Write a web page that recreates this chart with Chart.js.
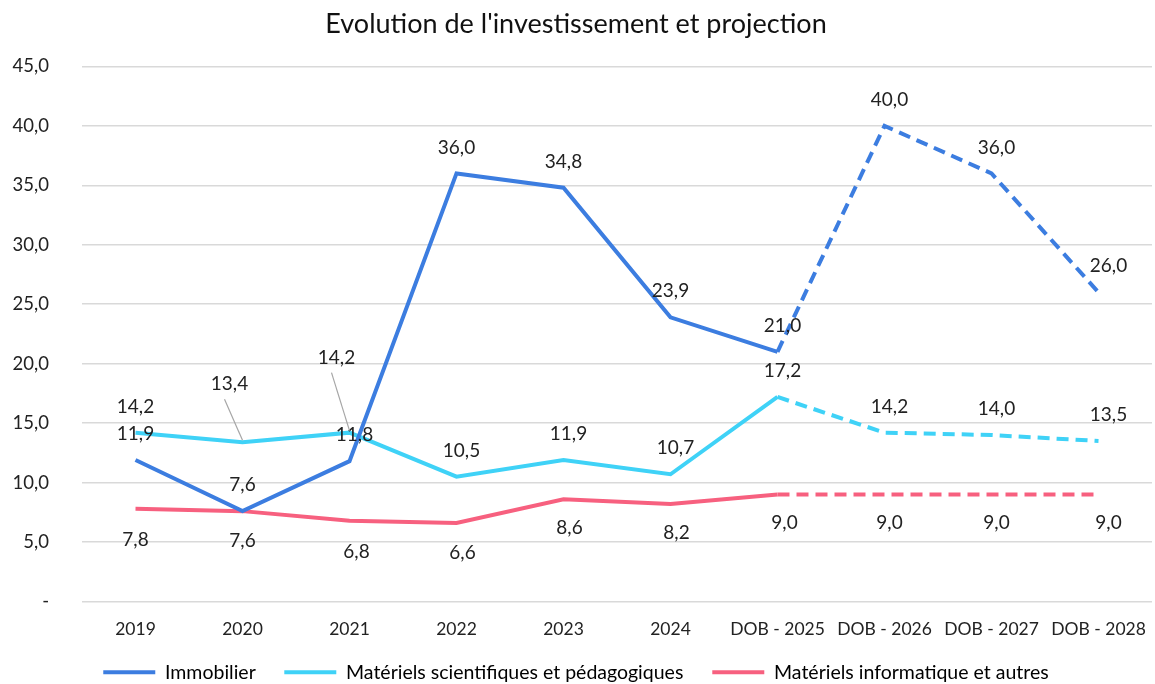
<!DOCTYPE html>
<html>
<head>
<meta charset="utf-8">
<script src="https://cdn.jsdelivr.net/npm/chart.js@4.4.1/dist/chart.umd.min.js"></script>
<style>
  html, body { margin: 0; padding: 0; background: #fff; }
  #wrap { width: 1155px; height: 684px; position: relative; }
</style>
</head>
<body>
<div id="wrap"><canvas id="c"></canvas></div>
<script>
const categories = ['2019', '2020', '2021', '2022', '2023', '2024', 'DOB - 2025', 'DOB - 2026', 'DOB - 2027', 'DOB - 2028'];
const immobilier = [11.9, 7.6, 11.8, 36.0, 34.8, 23.9, 21.0, 40.0, 36.0, 26.0];
const scientifiques = [14.2, 13.4, 14.2, 10.5, 11.9, 10.7, 17.2, 14.2, 14.0, 13.5];
const informatique = [7.8, 7.6, 6.8, 6.6, 8.6, 8.2, 9.0, 9.0, 9.0, 9.0];
const seriesNames = ['Immobilier', 'Matériels scientifiques et pédagogiques', 'Matériels informatique et autres'];
const yTicks = [0, 5, 10, 15, 20, 25, 30, 35, 40, 45];
const projectionStart = 6;

const FONT = 'Lato, "Open Sans", sans-serif';
const colors = ['#3c7de0', '#3fd2f7', '#f7607f'];

// label placement (style only): [dx, dy] per dataset per point
const labelPos = [
  [[0,-26],[0,-26],[5,-26],[0,-26],[0,-26],[0,-26],[5,-26],[5,-26],[5,-26],[10,-26]],
  [[0,-26],[-13,-58],[-13,-75],[5,-26],[5,-26],[5,-26],[5,-26],[5,-26],[5,-26],[10,-26]],
  [[0,31],[0,30],[7,31],[6,30],[6,29],[6,29],[7,28],[5,28],[5,28],[10,28]]
];
const leaders = { '1-1': true, '1-2': true };

const fmt = v => v.toFixed(1).replace('.', ',');
const GAP = '\u00a0'.repeat(5);

const labelPlugin = {
  id: 'pointLabels',
  afterDatasetsDraw(chart) {
    const ctx = chart.ctx;
    ctx.save();
    ctx.font = '19px ' + FONT;
    ctx.fillStyle = '#222';
    ctx.textAlign = 'center';
    ctx.textBaseline = 'middle';
    chart.data.datasets.forEach((ds, di) => {
      const meta = chart.getDatasetMeta(di);
      meta.data.forEach((pt, i) => {
        const [dx, dy] = labelPos[di][i];
        const lx = pt.x + dx, ly = pt.y + dy;
        if (leaders[di + '-' + i]) {
          ctx.save();
          ctx.strokeStyle = '#a6a6a6';
          ctx.lineWidth = 1.2;
          ctx.beginPath();
          ctx.moveTo(lx - 5, ly + 15);
          ctx.lineTo(pt.x, pt.y - 2);
          ctx.stroke();
          ctx.restore();
        }
        ctx.fillText(fmt(ds.data[i]), lx, ly);
      });
    });
    ctx.restore();
  }
};

const dashSeg = {
  borderDash: c => c.p0DataIndex >= projectionStart ? [12, 7] : undefined
};

function makeDs(label, data, color) {
  return {
    label, data,
    borderColor: color,
    backgroundColor: color,
    borderWidth: 4,
    pointRadius: 0,
    pointHoverRadius: 0,
    tension: 0,
    borderCapStyle: 'butt',
    borderJoinStyle: 'miter',
    segment: dashSeg
  };
}

new Chart(document.getElementById('c'), {
  type: 'line',
  data: {
    labels: categories,
    datasets: [
      makeDs(seriesNames[0], immobilier, colors[0]),
      makeDs(seriesNames[1], scientifiques, colors[1]),
      makeDs(seriesNames[2], informatique, colors[2])
    ]
  },
  options: {
    responsive: true,
    maintainAspectRatio: false,
    animation: false,
    layout: { padding: { left: 0, right: 3, top: 0, bottom: -8 } },
    plugins: {
      title: {
        display: true,
        text: 'Evolution de l\'investissement et projection',
        color: '#111',
        font: { family: FONT, size: 27, weight: 'normal' },
        padding: { top: 8, bottom: 26 }
      },
      legend: {
        position: 'bottom',
        labels: {
          color: '#222',
          font: { family: FONT, size: 19.5 },
          boxWidth: 52,
          boxHeight: 4,
          padding: 4,
          generateLabels(chart) {
            const n = chart.data.datasets.length;
            return chart.data.datasets.map((ds, i) => ({
              text: ds.label + (i < n - 1 ? GAP : ''),
              fillStyle: ds.borderColor,
              strokeStyle: ds.borderColor,
              lineWidth: 0,
              datasetIndex: i,
              hidden: false
            }));
          }
        }
      },
      tooltip: { enabled: false }
    },
    scales: {
      x: {
        offset: true,
        afterFit(scale) { scale.height = 57; scale.paddingLeft = 0; scale.paddingRight = 0; },
        grid: { display: false, drawTicks: false },
        border: { display: false },
        ticks: { color: '#222', font: { family: FONT, size: 17.5 }, padding: 17, maxRotation: 0, autoSkip: false }
      },
      y: {
        min: 0, max: 45,
        afterBuildTicks(scale) { scale.ticks = yTicks.map(v => ({ value: v })); },
        afterFit(scale) { scale.width = 82; },
        grid: { color: '#d9d9d9', lineWidth: 1.5, drawTicks: false },
        border: { display: false },
        ticks: {
          color: '#222',
          font: { family: FONT, size: 18.5 },
          padding: 33,
          callback: v => v === 0 ? '-' : fmt(v)
        }
      }
    }
  },
  plugins: [labelPlugin]
});
</script>
</body>
</html>
